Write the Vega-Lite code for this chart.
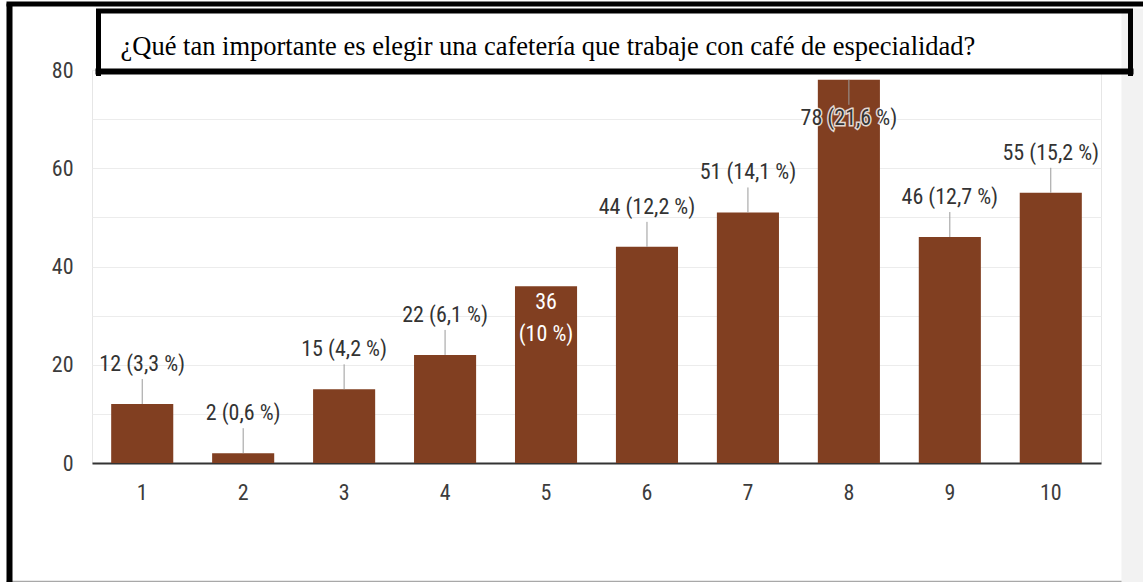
{
  "$schema": "https://vega.github.io/schema/vega-lite/v6.json",
  "padding": {"left": 6, "top": 3, "right": 0, "bottom": 0},
  "background": "white",
  "width": 1009,
  "height": 393,
  "view": {"stroke": "#e6e6e6"},
  "config": {
    "font": "Liberation Sans Narrow, Roboto Condensed, DejaVu Sans Condensed, Liberation Sans, sans-serif"
  },
  "data": {
    "values": [
      {"q": 1, "n": 12, "pct": "(3,3 %)", "label": "12 (3,3 %)"},
      {"q": 2, "n": 2, "pct": "(0,6 %)", "label": "2 (0,6 %)"},
      {"q": 3, "n": 15, "pct": "(4,2 %)", "label": "15 (4,2 %)"},
      {"q": 4, "n": 22, "pct": "(6,1 %)", "label": "22 (6,1 %)"},
      {"q": 5, "n": 36, "pct": "(10 %)", "label": "36 (10 %)"},
      {"q": 6, "n": 44, "pct": "(12,2 %)", "label": "44 (12,2 %)"},
      {"q": 7, "n": 51, "pct": "(14,1 %)", "label": "51 (14,1 %)"},
      {"q": 8, "n": 78, "pct": "(21,6 %)", "label": "78 (21,6 %)"},
      {"q": 9, "n": 46, "pct": "(12,7 %)", "label": "46 (12,7 %)"},
      {"q": 10, "n": 55, "pct": "(15,2 %)", "label": "55 (15,2 %)"}
    ]
  },
  "layer": [
    {
      "encoding": {
        "x": {"field": "q", "type": "ordinal",
          "scale": {"paddingInner": 0.385, "paddingOuter": 0.19},
          "axis": {"orient": "bottom", "title": null, "labelAngle": 0, "ticks": false, "domainColor": "#333333", "domainWidth": 2, "labelPadding": 19, "labelFontSize": 22, "labelColor": "#3c3c3c", "grid": false}},
        "y": {"field": "n", "type": "quantitative",
          "scale": {"domain": [0, 80], "nice": false},
          "axis": {"orient": "left", "title": null, "values": [0, 10, 20, 30, 40, 50, 60, 70, 80], "labelExpr": "datum.value % 20 === 0 ? datum.label : ''", "domain": false, "ticks": false, "labelPadding": 19, "labelFontSize": 22, "labelColor": "#3c3c3c", "gridColor": "#ececec", "gridWidth": 1}}
      },
      "layer": [
        {"mark": {"type": "bar", "color": "#813f21"}},
        {
          "transform": [{"filter": "datum.q != 5 && datum.q != 8"}],
          "mark": {"type": "rule", "color": "#9a9a9a", "strokeWidth": 1, "y2Offset": -25},
          "encoding": {"y2": {"field": "n"}}
        },
        {
          "transform": [{"filter": "datum.q != 5 && datum.q != 8"}],
          "mark": {"type": "text", "dy": -40, "baseline": "middle", "fontSize": 22, "color": "#333333"},
          "encoding": {"text": {"field": "label"}}
        },
        {
          "transform": [{"filter": "datum.q == 8"}],
          "mark": {"type": "rule", "color": "#9a9a9a", "strokeWidth": 1, "y2Offset": 25},
          "encoding": {"y2": {"field": "n"}}
        },
        {
          "transform": [{"filter": "datum.q == 8"}],
          "mark": {"type": "text", "dy": 38, "baseline": "middle", "fontSize": 22, "color": "white", "stroke": "white", "strokeWidth": 3, "opacity": 0.8},
          "encoding": {"text": {"field": "label"}}
        },
        {
          "transform": [{"filter": "datum.q == 8"}],
          "mark": {"type": "text", "dy": 38, "baseline": "middle", "fontSize": 22, "color": "#333333"},
          "encoding": {"text": {"field": "label"}}
        },
        {
          "transform": [{"filter": "datum.q == 5"}],
          "mark": {"type": "text", "dy": 16, "baseline": "middle", "fontSize": 22, "color": "white"},
          "encoding": {"text": {"field": "n"}}
        },
        {
          "transform": [{"filter": "datum.q == 5"}],
          "mark": {"type": "text", "dy": 48, "baseline": "middle", "fontSize": 22, "color": "white"},
          "encoding": {"text": {"field": "pct"}}
        }
      ]
    },
    {
      "mark": {"type": "text"},
      "encoding": {
        "text": {"value": ""},
        "x": {"datum": 0, "type": "quantitative", "scale": {"domain": [0, 1], "range": [-86, 1051]},
          "axis": {"orient": "bottom", "offset": 118, "domainColor": "#a8a8a8", "domainWidth": 1.5, "domainCap": "butt", "labels": false, "ticks": false, "grid": false, "title": null, "zindex": 0}},
        "y": {"datum": 0, "type": "quantitative", "scale": {"domain": [0, 1], "range": [512, -62]},
          "axis": {"orient": "right", "offset": 31, "domainColor": "#f2f2f2", "domainWidth": 22, "domainCap": "butt", "labels": false, "ticks": false, "grid": false, "title": null, "zindex": 0}}
      }
    },
    {
      "mark": {"type": "text"},
      "encoding": {
        "text": {"value": ""},
        "x": {"datum": 0, "type": "quantitative", "scale": {"domain": [0, 1], "range": [-86, 1051]},
          "axis": {"orient": "top", "offset": 66.5, "domainColor": "black", "domainWidth": 5, "domainCap": "butt", "labels": false, "ticks": false, "grid": false, "title": null, "zindex": 3}},
        "y": {"datum": 0, "type": "quantitative", "scale": {"domain": [0, 1], "range": [512, -67]},
          "axis": {"orient": "left", "offset": 83, "domainColor": "black", "domainWidth": 6, "domainCap": "butt", "labels": false, "ticks": false, "grid": false, "title": null, "zindex": 3}}
      }
    },
    {
      "mark": {"type": "text"},
      "encoding": {
        "text": {"value": ""},
        "x": {"datum": 0, "type": "quantitative", "scale": {"domain": [0, 1], "range": [6, 1038]},
          "axis": {"orient": "top", "offset": 59.5, "domainColor": "black", "domainWidth": 5, "domainCap": "square", "labels": false, "ticks": false, "grid": false, "zindex": 3,
            "title": "¿Qué tan importante es elegir una cafetería que trabaje con café de especialidad?",
            "titleFont": "Liberation Serif", "titleFontSize": 26.5, "titleFontWeight": "normal", "titleColor": "black",
            "titleAnchor": "start", "titleAlign": "left", "titleBaseline": "alphabetic", "titleAngle": 0,
            "titleX": 28, "titleY": 44}},
        "y": {"datum": 0, "type": "quantitative", "scale": {"domain": [0, 1], "range": [3, -57.5]},
          "axis": {"orient": "left", "offset": -6, "domainColor": "black", "domainWidth": 5, "domainCap": "square", "labels": false, "ticks": false, "grid": false, "title": null, "zindex": 3}}
      }
    },
    {
      "mark": {"type": "text"},
      "encoding": {
        "text": {"value": ""},
        "x": {"datum": 0, "type": "quantitative", "scale": {"domain": [0, 1], "range": [6, 1038]},
          "axis": {"orient": "top", "offset": -1, "domainColor": "black", "domainWidth": 6, "domainCap": "square", "labels": false, "ticks": false, "grid": false, "title": null, "zindex": 3}},
        "y": {"datum": 0, "type": "quantitative", "scale": {"domain": [0, 1], "range": [3, -57.5]},
          "axis": {"orient": "right", "offset": 29, "domainColor": "black", "domainWidth": 5, "domainCap": "square", "labels": false, "ticks": false, "grid": false, "title": null, "zindex": 3}}
      }
    }
  ],
  "resolve": {
    "scale": {"x": "independent", "y": "independent"},
    "axis": {"x": "independent", "y": "independent"}
  }
}
